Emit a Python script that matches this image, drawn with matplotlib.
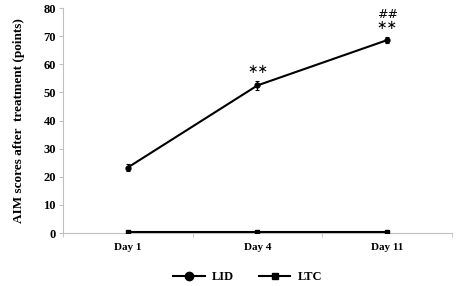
import numpy as np
import matplotlib
matplotlib.use('Agg')
import matplotlib.pyplot as plt
from matplotlib.lines import Line2D

######## DATA ############
days = ['Day 1', 'Day 4', 'Day 11']
lid = [23.3, 52.5, 68.6]
lidErr = [1.2, 1.5, 1.0]
ltc = [0.3, 0.3, 0.3]
ltcErr = [0.0, 0.0, 0.0]
marks = ['', '∗∗', '##\n∗∗']
##########################

plt.rcParams['font.family'] = ['Liberation Serif', 'DejaVu Serif']
plt.rcParams['font.weight'] = 'bold'

fig = plt.figure(figsize=(4.59, 2.86), dpi=100)
ax = fig.add_axes([0.137, 0.185, 0.848, 0.787])

xPos = np.arange(len(days))
ax.errorbar(xPos, lid, yerr=lidErr, color='black', lw=1.5, marker='o', ms=3.5,
            capsize=1.5, elinewidth=0.8, capthick=0.8, zorder=10)
ax.errorbar(xPos, ltc, yerr=ltcErr, color='black', lw=1.5, marker='s', ms=3.5,
            capsize=0, zorder=10)

for i in range(len(days)):
    if marks[i]:
        ax.text(xPos[i], lid[i] + lidErr[i] + 1.8, marks[i], ha='center', va='bottom',
                fontsize=9, fontweight='normal', linespacing=0.85,
                family=['DejaVu Sans'])

ax.set_xlim(-0.5, len(days) - 0.5)
ax.set_ylim(0, 80)
ax.set_yticks(np.arange(0, 81, 10))
ax.set_xticks(xPos)
ax.set_xticklabels(days, fontsize=8, fontweight='bold')
ax.set_xticks(np.arange(-0.5, len(days), 1), minor=True)
ax.tick_params(axis='x', which='major', length=0, pad=7)
ax.tick_params(axis='x', which='minor', length=3, color='#BFBFBF')
ax.tick_params(axis='y', labelsize=9, length=3, color='#BFBFBF', pad=2)
for lbl in ax.get_yticklabels():
    lbl.set_fontweight('bold')

for s in ['top', 'right']:
    ax.spines[s].set_visible(False)
for s in ['left', 'bottom']:
    ax.spines[s].set_color('#BFBFBF')
    ax.spines[s].set_linewidth(0.8)

ax.set_ylabel('AIM scores after  treatment (points)', fontsize=9.5, fontweight='bold', labelpad=13)

handles = [Line2D([0], [0], color='black', lw=1.5, marker='o', ms=6),
           Line2D([0], [0], color='black', lw=1.5, marker='s', ms=5)]
fig.legend(handles, ['LID', 'LTC'], loc='center', bbox_to_anchor=(0.54, 0.03),
           ncol=2, frameon=False, fontsize=9, handlelength=2.5, columnspacing=2.0,
           handletextpad=0.6)

plt.savefig('out.png', dpi=100)
